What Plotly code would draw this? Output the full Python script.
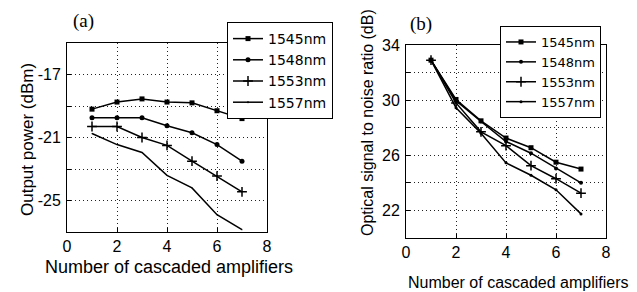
import plotly.graph_objects as go

W, H = 637, 292
OX, OY = 8, 8  # page body margin compensation

amps = [1, 2, 3, 4, 5, 6, 7]
labels = ["1545nm", "1548nm", "1553nm", "1557nm"]

# (a) Output power (dBm)
p1545 = [-19.2, -18.75, -18.55, -18.75, -18.8, -19.3, -19.8]
p1548 = [-19.75, -19.75, -19.75, -20.25, -20.7, -21.45, -22.5]
p1553 = [-20.3, -20.3, -21.0, -21.5, -22.5, -23.45, -24.45]
p1557 = [-20.75, -21.45, -21.95, -23.4, -24.2, -25.9, -26.85]

# (b) OSNR (dB)
o1545 = [32.9, 30.05, 28.5, 27.25, 26.55, 25.5, 25.0]
o1548 = [32.9, 29.95, 28.45, 27.0, 26.15, 25.05, 24.0]
o1553 = [32.9, 29.8, 27.7, 26.7, 25.25, 24.3, 23.25]
o1557 = [32.9, 29.45, 27.6, 25.45, 24.55, 23.5, 21.75]

powers = [p1545, p1548, p1553, p1557]
osnrs = [o1545, o1548, o1553, o1557]

markers_a = [dict(symbol="square", size=5),
             dict(symbol="circle", size=5),
             dict(symbol="cross-thin", size=7, line=dict(width=1.5, color="black")),
             dict(symbol="circle", size=1)]
markers_b = [dict(symbol="square", size=5),
             dict(symbol="circle", size=4),
             dict(symbol="cross-thin", size=7, line=dict(width=1.5, color="black")),
             dict(symbol="circle", size=3)]

fig = go.Figure()
for i in range(4):
    fig.add_trace(go.Scatter(x=amps, y=powers[i], name=labels[i], mode="lines+markers",
                             line=dict(color="black", width=1.5),
                             marker=dict(color="black", **markers_a[i]),
                             xaxis="x", yaxis="y", legend="legend"))
for i in range(4):
    fig.add_trace(go.Scatter(x=amps, y=osnrs[i], name=labels[i], mode="lines+markers",
                             line=dict(color="black", width=1.5),
                             marker=dict(color="black", **markers_b[i]),
                             xaxis="x2", yaxis="y2", legend="legend2"))

def fx(p):
    return (p - OX) / W

def fy(p):
    return (H - (p - OY)) / H

def px_x(a, b):
    return [fx(a), fx(b)]

def px_y(top, bottom):
    return [fy(bottom), fy(top)]

SANS = "Liberation Sans, Arial, sans-serif"
font = dict(family=SANS, size=18, color="black")
tick_font = dict(family=SANS, size=16, color="black")
axis_common = dict(showline=True, linecolor="black", linewidth=1, mirror=True,
                   showgrid=True, gridcolor="#222", gridwidth=1, griddash="1px,3px",
                   ticks="inside", ticklen=4, tickcolor="black", zeroline=False,
                   tickfont=tick_font, automargin=False)

fig.update_layout(
    template="none",
    width=W, height=H, margin=dict(l=0, r=0, t=0, b=0, autoexpand=False),
    paper_bgcolor="white", plot_bgcolor="white", font=font,
    xaxis=dict(domain=px_x(67, 267), range=[0, 8], tickvals=[0, 2, 4, 6, 8],
               anchor="y", **axis_common),
    yaxis=dict(domain=px_y(43, 232), range=[-27, -15],
               tickvals=[-25, -23, -21, -19, -17], ticktext=["-25", "", "-21", "", "-17"],
               anchor="x", ticklabelstandoff=2, **axis_common),
    xaxis2=dict(domain=px_x(406, 606), range=[0, 8], tickvals=[0, 2, 4, 6, 8],
                anchor="y2", **axis_common),
    yaxis2=dict(domain=px_y(45, 238), range=[20, 34],
                tickvals=[22, 24, 26, 28, 30, 32, 34], ticktext=["22", "", "26", "", "30", "", "34"],
                anchor="x2", ticklabelstandoff=2, **axis_common),
    legend=dict(x=fx(227), y=fy(22), xanchor="left", yanchor="top",
                bordercolor="black", borderwidth=1, bgcolor="white",
                font=dict(family="DejaVu Sans, sans-serif", size=14, color="black"),
                itemwidth=30, tracegroupgap=0),
    legend2=dict(x=fx(500), y=fy(26), xanchor="left", yanchor="top",
                 bordercolor="black", borderwidth=1, bgcolor="white",
                 font=dict(family="DejaVu Sans, sans-serif", size=13, color="black"),
                 itemwidth=30, tracegroupgap=0),
    showlegend=True,
)

serif = dict(family="Liberation Serif, Times New Roman, serif", size=19, color="black")
annots = [
    dict(text="(a)", x=fx(83), y=fy(21), font=serif),
    dict(text="(b)", x=fx(421), y=fy(24), font=serif),
    dict(text="Number of cascaded amplifiers", x=fx(169), y=fy(267), font=font),
    dict(text="Number of cascaded amplifiers", x=fx(518), y=fy(282),
         font=dict(family=SANS, size=16, color="black")),
    dict(text="Output power (dBm)", x=fx(27), y=fy(140), textangle=-90,
         font=dict(family=SANS, size=17, color="black")),
    dict(text="Optical signal to noise ratio (dB)", x=fx(367), y=fy(123), textangle=-90,
         font=dict(family=SANS, size=16, color="black")),
]
for a in annots:
    fig.add_annotation(xref="paper", yref="paper", showarrow=False,
                       xanchor="center", yanchor="middle", **a)

fig.write_html("out.html")
